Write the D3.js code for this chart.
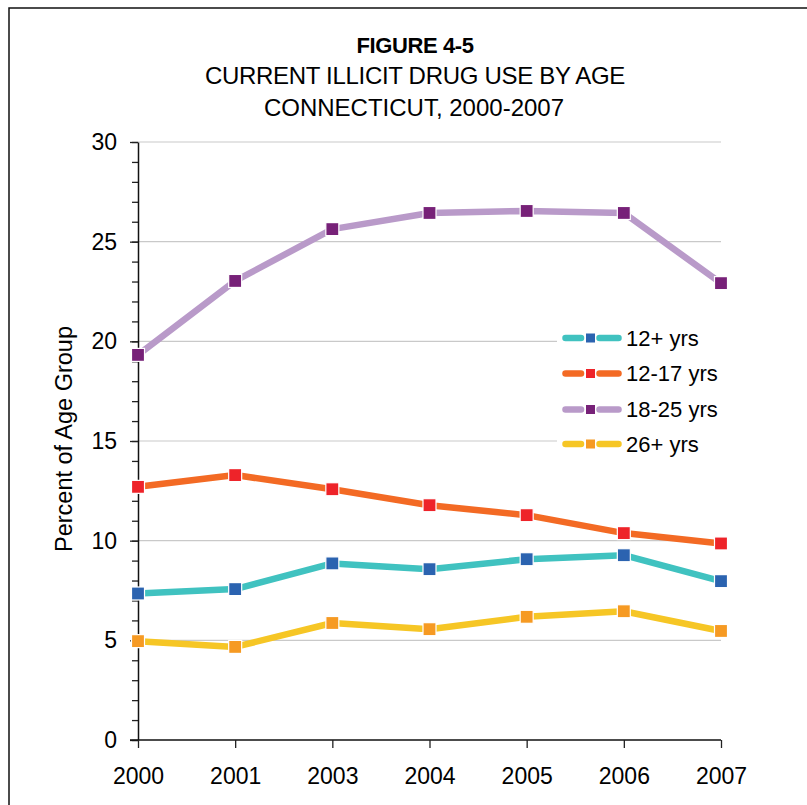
<!DOCTYPE html>
<html>
<head>
<meta charset="utf-8">
<script src="https://cdn.jsdelivr.net/npm/d3@7"></script>
<style>
  html, body { margin: 0; padding: 0; background: #fff; }
  svg { display: block; font-family: "Liberation Sans", Arial, sans-serif; }
</style>
</head>
<body>
<svg id="chart" width="807" height="805"></svg>
<script>
// Survey years (note: no 2002 value)
const years = ["2000", "2001", "2003", "2004", "2005", "2006", "2007"];

// Percent reporting current illicit drug use, by age group
const age12plus  = [7.35, 7.57, 8.86, 8.57, 9.07, 9.27, 7.97];
const age12to17  = [12.70, 13.29, 12.58, 11.78, 11.28, 10.38, 9.86];
const age18to25  = [19.32, 23.03, 25.63, 26.44, 26.54, 26.44, 22.92];
const age26plus  = [4.96, 4.67, 5.87, 5.56, 6.18, 6.46, 5.47];

const seriesNames = ["12+ yrs", "12-17 yrs", "18-25 yrs", "26+ yrs"];
const seriesValues = [age12plus, age12to17, age18to25, age26plus];
const lineColors   = ["#40c2c0", "#f36a24", "#b99ac9", "#f6c625"];
const markerColors = ["#2b63b0", "#ee2329", "#772178", "#f69a23"];

const yTicksMajor = [0, 5, 10, 15, 20, 25, 30];

const svg = d3.select("#chart");

// outer frame
svg.append("rect")
  .attr("x", 9).attr("y", 8)
  .attr("width", 830).attr("height", 830)
  .attr("fill", "none").attr("stroke", "#111").attr("stroke-width", 1.5);

const x = d3.scalePoint().domain(years).range([138, 721]);
const y = d3.scaleLinear().domain([0, 30]).range([740, 142]);

// title
const title = svg.append("g").attr("text-anchor", "middle").attr("fill", "#000");
title.append("text").attr("x", 415).attr("y", 53)
  .attr("font-size", 22).attr("font-weight", "bold").attr("letter-spacing", -0.4)
  .text("FIGURE 4-5");
title.append("text").attr("x", 415).attr("y", 84)
  .attr("font-size", 24).attr("letter-spacing", -0.3)
  .text("CURRENT ILLICIT DRUG USE BY AGE");
title.append("text").attr("x", 414).attr("y", 116)
  .attr("font-size", 24)
  .text("CONNECTICUT, 2000-2007");

// horizontal gridlines
svg.append("g")
  .selectAll("line")
  .data(yTicksMajor.filter(d => d > 0))
  .join("line")
  .attr("x1", x.range()[0]).attr("x2", x.range()[1])
  .attr("y1", d => y(d)).attr("y2", d => y(d))
  .attr("stroke", "#c9c9c9").attr("stroke-width", 1.2);

// minor y ticks every unit
const yMinor = svg.append("g")
  .attr("transform", `translate(${x.range()[0]},0)`)
  .call(d3.axisLeft(y).tickValues(d3.range(0, 31)).tickSize(6).tickFormat(""));
yMinor.select(".domain").remove();
yMinor.selectAll("line").attr("stroke", "#222").attr("stroke-width", 1.3);

// major y axis
const yAxis = svg.append("g")
  .attr("transform", `translate(${x.range()[0]},0)`)
  .call(d3.axisLeft(y).tickValues(yTicksMajor).tickSize(8).tickPadding(13).tickSizeOuter(0));
yAxis.select(".domain").attr("stroke", "#111").attr("stroke-width", 1.5);
yAxis.selectAll("line").attr("stroke", "#222").attr("stroke-width", 1.3);
yAxis.selectAll("text").attr("font-size", 23).attr("fill", "#000")
  .attr("font-family", "Liberation Sans, Arial, sans-serif");

// x axis
const xAxis = svg.append("g")
  .attr("transform", `translate(0,${y(0)})`)
  .call(d3.axisBottom(x).tickSize(8).tickPadding(20).tickSizeOuter(0));
xAxis.select(".domain").attr("stroke", "#111").attr("stroke-width", 1.5)
  .attr("d", `M${x.range()[0] - 8},0H${x.range()[1]}`);
xAxis.selectAll("line").attr("stroke", "#222").attr("stroke-width", 1.3);
xAxis.selectAll("text").attr("font-size", 23).attr("fill", "#000")
  .attr("font-family", "Liberation Sans, Arial, sans-serif");

// y axis title
svg.append("text")
  .attr("transform", "translate(72,439) rotate(-90)")
  .attr("text-anchor", "middle")
  .attr("font-size", 23.5).attr("fill", "#000")
  .text("Percent of Age Group");

// series lines and markers
const line = d3.line().x((d, i) => x(years[i])).y(d => y(d));
const markerSize = 13;
seriesValues.forEach((vals, s) => {
  const g = svg.append("g");
  g.append("path")
    .datum(vals)
    .attr("d", line)
    .attr("fill", "none")
    .attr("stroke", lineColors[s])
    .attr("stroke-width", 6.5)
    .attr("stroke-linejoin", "round");
  g.selectAll("rect")
    .data(vals)
    .join("rect")
    .attr("x", (d, i) => x(years[i]) - markerSize / 2)
    .attr("y", d => y(d) - markerSize / 2)
    .attr("width", markerSize).attr("height", markerSize)
    .attr("fill", markerColors[s])
    .attr("stroke", "#fff").attr("stroke-width", 1.2);
});

// legend
const legend = svg.append("g");
legend.append("rect")
  .attr("x", 557).attr("y", 320).attr("width", 170).attr("height", 142)
  .attr("fill", "#fff");
const rowY = [338, 373.5, 409.5, 444];
seriesNames.forEach((name, s) => {
  const row = legend.append("g").attr("transform", `translate(0,${rowY[s]})`);
  [[565.5, 581], [599.5, 618.5]].forEach(([a, b]) => {
    row.append("line")
      .attr("x1", a).attr("x2", b).attr("y1", 0).attr("y2", 0)
      .attr("stroke", lineColors[s]).attr("stroke-width", 6.5)
      .attr("stroke-linecap", "round");
  });
  row.append("rect")
    .attr("x", 586).attr("y", -4.5).attr("width", 9).attr("height", 9)
    .attr("fill", markerColors[s]);
  row.append("text")
    .attr("x", 626).attr("y", 0).attr("dy", "0.36em")
    .attr("font-size", 22).attr("fill", "#000")
    .text(name);
});
</script>
</body>
</html>
